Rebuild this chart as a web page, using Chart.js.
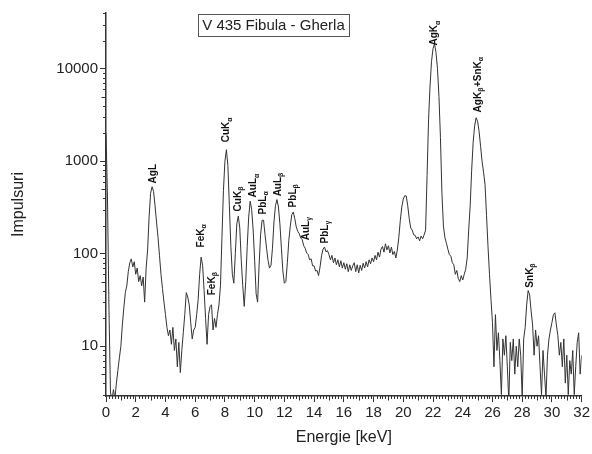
<!DOCTYPE html>
<html>
<head>
<meta charset="utf-8">
<title>V 435 Fibula - Gherla</title>
<script src="https://cdn.jsdelivr.net/npm/chart.js@4.4.1/dist/chart.umd.min.js"></script>
<style>
html, body { margin: 0; padding: 0; background: #fff; }
</style>
</head>
<body>
<canvas id="spectrum" width="592" height="454"></canvas>
<script>
Chart.defaults.font.family = '"Liberation Sans", Arial, sans-serif';
Chart.defaults.color = "#222";

// channels every 0.1 keV, from 0 to 32 keV
const energyStep = 0.1;

const counts0to8 = [
    2000, 400, 25, 3.2, 2.6, 3.4, 2.7, 4.0, 5.5, 7.5,
    10, 17, 26, 38, 45, 64, 80, 88, 72, 82,
    60, 70, 50, 58, 45, 56, 30, 70, 110, 250,
    450, 530, 470, 330, 220, 150, 95, 60, 42, 30,
    22, 16, 13, 15, 10.5, 16, 9, 12, 6, 11,
    5.2, 9, 14, 22, 38, 34, 28, 18, 12, 15,
    16, 22, 32, 60, 92, 75, 40, 20, 10.5, 22,
    27, 28, 15, 20, 16, 22, 28, 45, 150, 480
];
const counts8to16 = [
    1000, 1330, 900, 330, 120, 60, 48, 100, 210, 255,
    190, 85, 45, 27, 50, 120, 250, 370, 300, 180,
    85, 37, 30, 75, 160, 230, 230, 160, 115, 85,
    70, 75, 115, 220, 330, 385, 320, 210, 115, 65,
    48, 50, 80, 140, 200, 265, 282, 240, 195, 175,
    165, 148, 142, 122, 115, 102, 98, 86, 88, 74,
    74, 65, 66, 58, 72, 95, 112, 118, 105, 108,
    98, 86, 96, 80, 90, 76, 86, 72, 84, 70
];
const counts16to24 = [
    80, 68, 78, 64, 76, 66, 74, 80, 64, 76,
    62, 75, 66, 79, 70, 82, 72, 86, 78, 90,
    82, 96, 86, 104, 92, 112, 120, 104, 128, 110,
    122, 102, 118, 98, 106, 90, 110, 150, 230, 320,
    390, 425, 420, 330, 240, 190, 180, 160, 158, 145,
    152, 138, 155, 145, 160, 180, 700, 2800, 6500, 12000,
    16500, 18600, 15000, 10000, 5000, 1800, 450, 200, 150, 130,
    112, 98, 94, 80, 76, 60, 66, 54, 50, 58
];
const counts24to32 = [
    52, 60, 68, 90, 180, 330, 800, 1600, 2400, 2950,
    2700, 2100, 1450, 1000, 760, 560, 260, 120, 60, 32,
    18, 6, 22, 9, 14, 7, 3, 12, 8, 13,
    6, 2.5, 11, 7, 12, 5, 10, 6, 12, 8,
    2.8, 12, 16, 28, 40, 36, 24, 17, 8, 15,
    10, 13, 6, 3, 9, 5, 2.8, 8, 12, 15,
    18, 22, 23, 17, 13, 8, 11, 6, 12, 4,
    8, 3, 7, 5, 9, 3, 6, 11, 14, 5,
    8
];

const countTicks = [10, 100, 1000, 10000];

// peak labels: "_x" marks a subscript character
const peakNames = ["AgL", "FeK_α", "FeK_β", "CuK_α", "CuK_β", "AuL_α", "PbL_α",
    "AuL_β", "PbL_β", "AuL_γ", "PbL_γ", "AgK_α", "AgK_β+SnK_α", "SnK_β"];
const peakEnergies = [3.12, 6.34, 7.08, 8.04, 8.82, 9.87, 10.5,
    11.51, 12.52, 13.39, 14.66, 22.05, 24.97, 28.46];
const peakLabelCounts = [576, 117, 35.6, 1600, 287, 406, 266,
    417, 317, 140, 129, 17800, 3370, 43];

const chartTitle = "V 435 Fibula - Gherla";

const counts = counts0to8.concat(counts8to16, counts16to24, counts24to32);
const points = counts.map((c, i) => ({ x: Math.round(i * energyStep * 10) / 10, y: c }));

const axisColor = "#333";

const extraTicks = {
    id: "extraTicks",
    afterDraw(chart) {
        const ctx = chart.ctx;
        const xs = chart.scales.x, ys = chart.scales.y;
        const area = chart.chartArea;
        ctx.save();
        ctx.strokeStyle = axisColor;
        ctx.lineWidth = 1;
        ctx.beginPath();
        // x minor ticks
        for (let k = 1; k < 160; k++) {
            if (k % 10 === 0) continue;
            const px = Math.round(xs.getPixelForValue(k * 0.2)) + 0.5;
            const len = (k % 5 === 0) ? 4.5 : 3;
            ctx.moveTo(px, area.bottom);
            ctx.lineTo(px, area.bottom + len);
        }
        // y minor ticks
        for (let d = 1; d <= 10000; d *= 10) {
            for (let m = 2; m <= 9; m++) {
                const v = d * m;
                if (v < ys.min || v > ys.max) continue;
                const py = Math.round(ys.getPixelForValue(v)) + 0.5;
                const len = m === 5 ? 4.5 : 3;
                ctx.moveTo(area.left, py);
                ctx.lineTo(area.left - len, py);
            }
        }
        ctx.stroke();

        // peak labels
        ctx.fillStyle = "#111";
        peakNames.forEach((name, i) => {
            const px = xs.getPixelForValue(peakEnergies[i]);
            const py = ys.getPixelForValue(peakLabelCounts[i]);
            ctx.save();
            ctx.translate(px, py);
            ctx.rotate(-Math.PI / 2);
            ctx.textBaseline = "alphabetic";
            ctx.textAlign = "left";
            let pos = 0;
            for (let c = 0; c < name.length; c++) {
                if (name[c] === "_") {
                    c++;
                    ctx.font = 'bold 7px "Liberation Sans", Arial, sans-serif';
                    ctx.fillText(name[c], pos, 6);
                    pos += ctx.measureText(name[c]).width + 0.5;
                } else {
                    ctx.font = 'bold 10px "Liberation Sans", Arial, sans-serif';
                    ctx.fillText(name[c], pos, 3.6);
                    pos += ctx.measureText(name[c]).width;
                }
            }
            ctx.restore();
        });

        // boxed title
        ctx.font = '15px "Liberation Sans", Arial, sans-serif';
        const w = ctx.measureText(chartTitle).width;
        const cx = 273.5, top = 14, h = 22;
        ctx.fillStyle = "#fff";
        ctx.fillRect(cx - w / 2 - 4, top, w + 8, h);
        ctx.strokeStyle = "#555";
        ctx.strokeRect(Math.round(cx - w / 2 - 4) + 0.5, top + 0.5, Math.round(w + 8), h);
        ctx.fillStyle = "#222";
        ctx.textAlign = "center";
        ctx.textBaseline = "middle";
        ctx.fillText(chartTitle, cx, top + h / 2 + 1);
        ctx.restore();
    }
};

new Chart(document.getElementById("spectrum"), {
    type: "line",
    data: {
        datasets: [
            {
                data: points,
                borderColor: "#333",
                borderWidth: 1,
                pointRadius: 0,
                tension: 0,
                fill: false
            }
        ]
    },
    options: {
        responsive: false,
        animation: false,
        events: [],
        layout: {
            padding: { top: 13, right: 9, left: 0, bottom: 0 }
        },
        scales: {
            x: {
                type: "linear",
                min: 0,
                max: 32,
                afterFit: s => { s.height = 58; },
                grid: { drawOnChartArea: false, drawTicks: true, tickLength: 6, color: axisColor },
                border: { display: true, color: axisColor, width: 1.5 },
                ticks: { stepSize: 2, padding: 2, autoSkip: false, maxRotation: 0, font: { size: 15 }, color: "#222" },
                title: { display: true, text: "Energie [keV]", font: { size: 16 }, color: "#222", padding: { top: 0, bottom: 7 } }
            },
            y: {
                type: "logarithmic",
                min: 2.9,
                max: 40000,
                afterFit: s => { s.width = 106; },
                afterBuildTicks: s => { s.ticks = countTicks.map(v => ({ value: v })); },
                grid: { drawOnChartArea: false, drawTicks: true, tickLength: 6, color: axisColor },
                border: { display: true, color: axisColor, width: 1.5 },
                ticks: { padding: 2, font: { size: 15 }, color: "#222", callback: v => String(v) },
                title: { display: true, text: "Impulsuri", font: { size: 16 }, color: "#222", padding: { top: 9, bottom: 0 } }
            }
        },
        plugins: {
            legend: { display: false },
            tooltip: { enabled: false }
        }
    },
    plugins: [extraTicks]
});
</script>
</body>
</html>
